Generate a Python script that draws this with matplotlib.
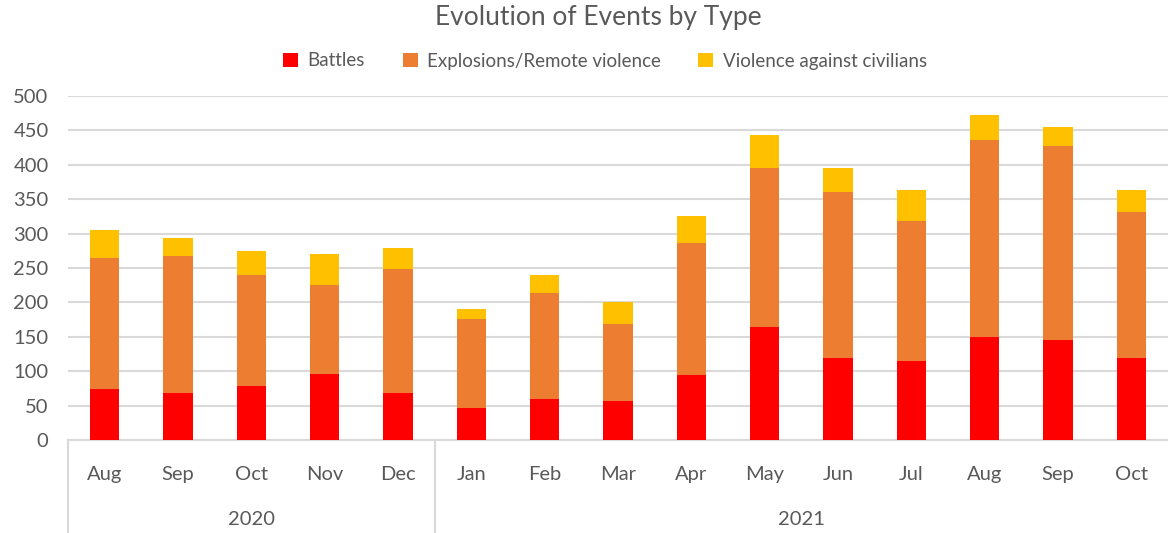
import numpy as np
import matplotlib.pyplot as plt
from matplotlib.transforms import blended_transform_factory

months = ["Aug", "Sep", "Oct", "Nov", "Dec", "Jan", "Feb", "Mar", "Apr",
          "May", "Jun", "Jul", "Aug", "Sep", "Oct"]
years = ["2020", "2021"]
year_counts = [5, 10]

battles = [74, 68, 78, 96, 68, 46, 59, 57, 95, 164, 119, 115, 149, 145, 119]
explosions = [190, 200, 162, 129, 181, 130, 155, 112, 192, 231, 241, 203, 287, 282, 212]
civilians = [41, 26, 35, 45, 30, 15, 26, 32, 39, 48, 36, 45, 37, 28, 32]

series = ["Battles", "Explosions/Remote violence", "Violence against civilians"]
colors = ["#FF0000", "#ED7D31", "#FFC000"]
txt = "#595959"
grid = "#D9D9D9"

plt.rcParams['font.family'] = ['Lato', 'DejaVu Sans']

W, H = 1168, 533
fig = plt.figure(figsize=(W/100, H/100), dpi=100)
ax = fig.add_axes([68/W, (H-440)/H, 1-68/W, (440-96)/H])

x = np.arange(len(months))
b1 = np.array(battles)
b2 = np.array(explosions)
b3 = np.array(civilians)
ax.bar(x, b1, 0.4, color=colors[0], label=series[0], zorder=3)
ax.bar(x, b2, 0.4, bottom=b1, color=colors[1], label=series[1], zorder=3)
ax.bar(x, b3, 0.4, bottom=b1+b2, color=colors[2], label=series[2], zorder=3)

ax.set_xlim(-0.5, len(months)-0.5)
ax.set_ylim(0, 500)
ax.set_yticks(range(0, 501, 50))
ax.yaxis.grid(True, color=grid, linewidth=1.5, zorder=0)
for s in ["top", "right", "left"]:
    ax.spines[s].set_visible(False)
ax.spines["bottom"].set_color(grid)
ax.spines["bottom"].set_linewidth(1.5)
ax.tick_params(axis='y', length=0, labelsize=14.5, labelcolor=txt, pad=14)
ax.tick_params(axis='x', length=0, labelsize=14.5, labelcolor=txt, pad=19)
ax.set_xticks(x)
ax.set_xticklabels(months)

# year group labels and separators below the axis
tr = blended_transform_factory(ax.transData, ax.transAxes)
start = 0
bounds = [-0.5]
for yr, n in zip(years, year_counts):
    mid = start + (n - 1) / 2
    ax.text(mid, -0.23, yr, transform=tr, ha='center', va='center',
            fontsize=14.5, color=txt)
    start += n
    bounds.append(start - 0.5)
for bx in bounds[:-1]:
    ax.plot([bx, bx], [0, -0.3], transform=tr, color=grid, lw=1.5, clip_on=False)

fig.text(598/W, 1-18/H, "Evolution of Events by Type", ha='center', va='center',
         fontsize=19, color=txt)
fig.legend(loc='center', bbox_to_anchor=(605/W, 1-61/H), ncol=3, frameon=False,
           fontsize=13.5, handlelength=0.8, handleheight=0.8, handletextpad=0.5,
           columnspacing=2.0, labelcolor=txt)

fig.savefig("out.png", dpi=100)
